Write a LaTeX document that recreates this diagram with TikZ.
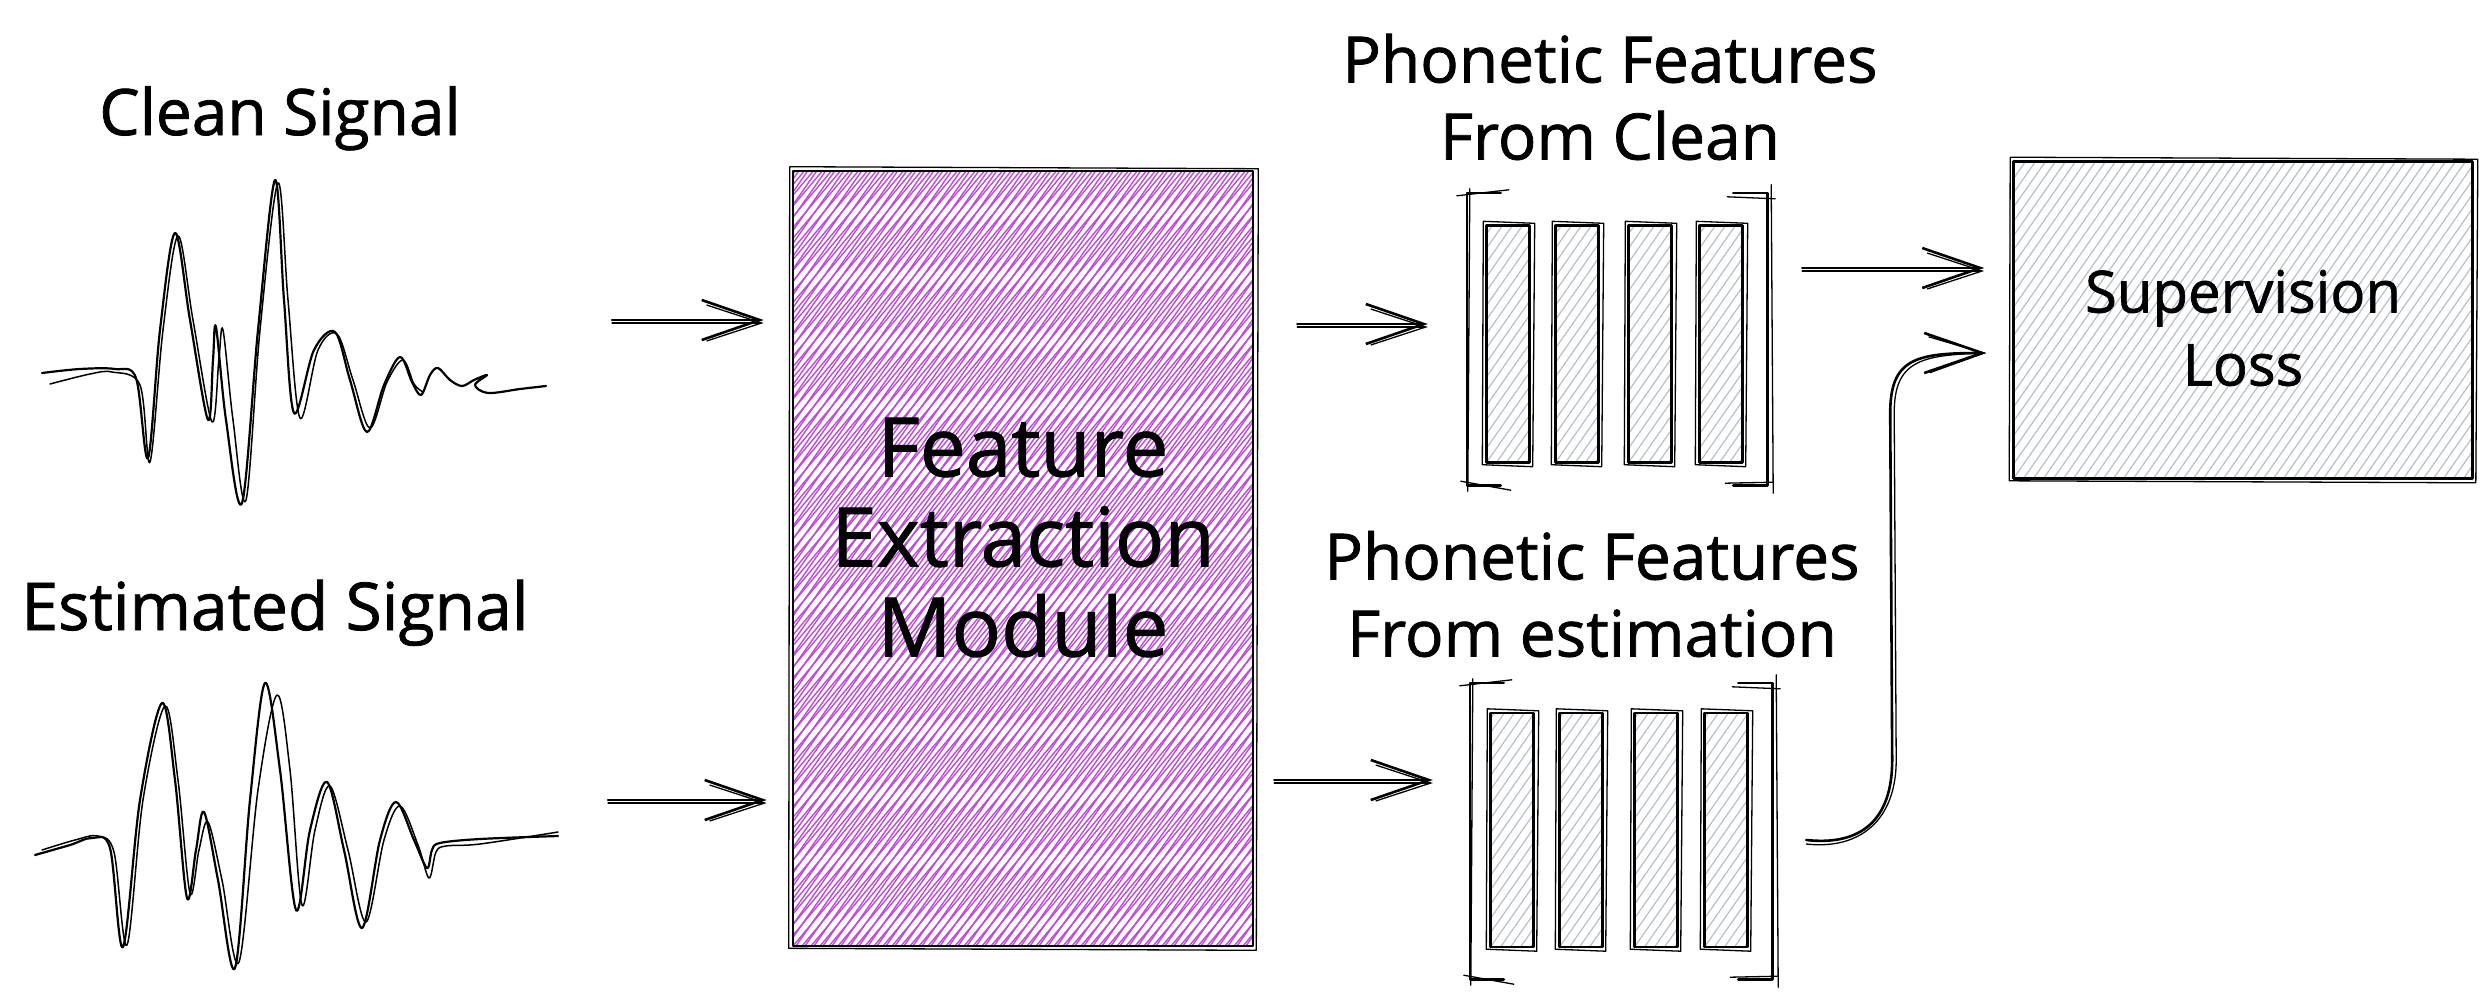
\documentclass[tikz,border=0pt]{standalone}
\usepackage{fontspec}
\setmainfont{Open Sans}[FakeBold=1.2]
\usetikzlibrary{arrows.meta,calc}
\definecolor{vio}{HTML}{BE4BDB}
\definecolor{hgray}{HTML}{B9C0C8}
\tikzset{
  ink/.style={draw=black, line width=2.6pt, line cap=round, line join=round},
  echo/.style={draw=black, line width=1.3pt, line cap=round, line join=round},
  wave/.style={draw=black, line width=2.2pt, line cap=round, line join=round},
  wave2/.style={draw=black, line width=1.5pt, line cap=round, line join=round},
  hatchv/.style={path picture={
    \foreach \k in {-80,...,55} {
      \draw[vio, line width=1.4pt] ($(path picture bounding box.south west)+(\k*9pt,0pt)$) -- ++(50:1100pt);
      \draw[vio, line width=1.4pt] ($(path picture bounding box.south west)+(\k*9pt+3pt,0pt)$) -- ++(55:1100pt);
    }}},
  hatchg/.style={path picture={
    \foreach \k in {-80,...,55} {
      \draw[hgray, line width=1.2pt] ($(path picture bounding box.south west)+(\k*10pt,0pt)$) -- ++(55:620pt);
    }}},
  lab/.style={font=\fontsize{64pt}{77pt}\selectfont, inner sep=0pt},
  midlab/.style={font=\fontsize{58pt}{73pt}\selectfont, inner sep=0pt},
  biglab/.style={font=\fontsize{82pt}{90pt}\selectfont, inner sep=0pt},
  barbox/.style={ink, line width=2.4pt, hatchg, minimum width=43pt, minimum height=237pt, inner sep=0pt},
  arr/.style={draw=black, line width=2.6pt, line cap=round, line join=round, -{Straight Barb[length=58pt,width=40pt]}},
  arrtwo/.style={draw=black, line width=1.3pt, line cap=round, line join=round, -{Straight Barb[length=55pt,width=36pt]}},
}
\newcommand\echobox[1]{\draw[echo] ([shift={(-2pt,3pt)}]#1.north west) -- ([shift={(4pt,1pt)}]#1.north east) -- ([shift={(2pt,-3pt)}]#1.south east) -- ([shift={(-3pt,-1pt)}]#1.south west) -- cycle;}
\newcommand\skbrackets[1]{%
  \draw[ink] ([xshift=34pt]#1.north west) -- (#1.north west) -- (#1.south west) -- ([xshift=34pt]#1.south west);
  \draw[ink] ([xshift=-34pt]#1.north east) -- (#1.north east) -- (#1.south east) -- ([xshift=-34pt]#1.south east);
  \draw[echo] ([shift={(-10pt,-3pt)}]#1.north west) -- ([shift={(42pt,3pt)}]#1.north west);
  \draw[echo] ([shift={(-6pt,4pt)}]#1.south west) -- ([shift={(44pt,-5pt)}]#1.south west);
  \draw[echo] ([shift={(-40pt,-4pt)}]#1.north east) -- ([shift={(8pt,-6pt)}]#1.north east);
  \draw[echo] ([shift={(-42pt,2pt)}]#1.south east) -- ([shift={(6pt,3pt)}]#1.south east);
  \draw[echo] ([shift={(3pt,4pt)}]#1.north west) -- ([shift={(1pt,-6pt)}]#1.south west);
  \draw[echo] ([shift={(4pt,8pt)}]#1.north east) -- ([shift={(6pt,-8pt)}]#1.south east);
}
\newcommand\skarrow[3][]{\draw[arr,#1] #2 -- #3; \draw[arrtwo,#1,transform canvas={yshift=-3pt}] #2 -- #3;}
\begin{document}
\begin{tikzpicture}[x=1pt,y=-1pt]
\useasboundingbox (0,0) rectangle (2488,1002);
\fill[white] (0,0) rectangle (2488,1002);

% ---------- signals ----------
\node[lab, anchor=base] (tclean) at (280,135) {Clean Signal};
\node[lab, anchor=base, font=\fontsize{66pt}{77pt}\selectfont] (test) at (275,630) {Estimated Signal};

\draw[wave] plot[smooth, tension=0.55] coordinates {(42,373) (80,369) (115,369) (136,378) (148,458) (160,330) (175,233) (190,320) (208,420) (213,360) (216,327) (226,420) (242,503) (258,330) (275,180) (284,300) (294,413) (314,350) (335,332) (350,380) (367,432) (384,385) (400,357) (412,382) (421,395) (430,375) (438,368) (450,380) (462,386) (474,380) (487,375) (475,385) (488,393) (520,389) (546,386)};
\draw[wave2] plot[smooth, tension=0.55] coordinates {(50,384) (90,374) (112,372) (140,385) (150,462) (163,330) (178,236) (193,320) (212,422) (219,358) (223,330) (233,420) (246,500) (260,330) (278,183) (288,300) (300,418) (318,350) (337,334) (353,380) (370,428) (387,382) (403,360) (414,384) (423,392)};

\draw[wave] plot[smooth, tension=0.55] coordinates {(35,855) (70,845) (92,838) (110,848) (123,947) (140,800) (162,703) (175,780) (187,898) (196,850) (204,812) (218,880) (235,968) (250,800) (265,683) (280,770) (296,910) (310,830) (327,782) (344,850) (362,928) (380,840) (396,802) (414,840) (427,868) (432,850) (440,843) (480,839) (558,836)};
\draw[wave2] plot[smooth, tension=0.55] coordinates {(42,850) (75,840) (98,836) (114,852) (127,945) (143,800) (165,706) (178,780) (190,893) (199,850) (208,822) (222,880) (239,962) (258,790) (277,695) (290,770) (302,905) (315,830) (330,786) (348,850) (366,922) (384,840) (400,806) (418,845) (429,878) (436,852) (446,846) (480,844) (558,832)};

% ---------- feature extraction ----------
\node[ink, hatchv, minimum width=460pt, minimum height=775pt, inner sep=0pt] (fe) at (1023,558.5) {};
\echobox{fe}
\node[biglab, align=center] (tfe) at ([yshift=21pt]fe.center) {Feature\\Extraction\\Module};

% ---------- phonetic features (clean) ----------
\node[lab, align=center] (tpfc) at (1610,97) {Phonetic Features\\From Clean};
\node[minimum width=300pt, minimum height=292pt, inner sep=0pt] (pfc) at (1617,339) {};
\skbrackets{pfc}
\node[barbox] (c1) at (1508,344) {};
\node[barbox] (c2) at (1577,344) {};
\node[barbox] (c3) at (1650,344) {};
\node[barbox] (c4) at (1721,344) {};
\echobox{c1}\echobox{c2}\echobox{c3}\echobox{c4}

% ---------- phonetic features (estimation) ----------
\node[lab, align=center] (tpfe) at (1592,594) {Phonetic Features\\From estimation};
\node[minimum width=302pt, minimum height=296pt, inner sep=0pt] (pfe) at (1621,831) {};
\skbrackets{pfe}
\node[barbox, minimum height=234pt] (e1) at (1512,830) {};
\node[barbox, minimum height=234pt] (e2) at (1581,830) {};
\node[barbox, minimum height=234pt] (e3) at (1656,830) {};
\node[barbox, minimum height=234pt] (e4) at (1726,830) {};
\echobox{e1}\echobox{e2}\echobox{e3}\echobox{e4}

% ---------- supervision loss ----------
\node[ink, hatchg, minimum width=459pt, minimum height=317pt, inner sep=0pt] (sl) at (2243,320) {};
\echobox{sl}
\node[midlab, align=center] (tsl) at ([yshift=-8pt]sl.center) {Supervision\\Loss};

% ---------- arrows ----------
\coordinate (a1s) at (612,320);
\coordinate (a2s) at (608,800);
\skarrow[shorten >=28pt]{(a1s)}{(a1s -| fe.west)}
\skarrow[shorten >=25pt]{(a2s)}{(a2s -| fe.west)}
\coordinate (a3) at ([yshift=15pt]pfc.west);
\skarrow[shorten <=43pt, shorten >=39pt]{(a3 -| fe.east)}{(a3)}
\coordinate (a4) at ([yshift=51pt]pfe.west);
\skarrow[shorten <=20pt, shorten >=37pt]{(a4 -| fe.east)}{(a4)}
\coordinate (a5) at ([yshift=71pt]pfc.east);
\skarrow[shorten <=35pt, shorten >=28pt]{(a5)}{(a5 -| sl.west)}

\coordinate (p6a) at ([xshift=34pt,yshift=-9pt]pfe.east);
\coordinate (p6b) at ([xshift=-26pt,yshift=-33pt]sl.west);
\draw[arr] (p6a) .. controls ($(p6a)+(55,6)$) and ($(p6a)+(86,-20)$) .. ($(p6a)+(86,-80)$) -- ($(p6b)+(-96,60)$) .. controls ($(p6b)+(-96,5)$) and ($(p6b)+(-70,0)$) .. (p6b);
\draw[arrtwo, transform canvas={xshift=4pt}] ($(p6a)+(-4,4)$) .. controls ($(p6a)+(50,10)$) and ($(p6a)+(86,-20)$) .. ($(p6a)+(86,-80)$) -- ($(p6b)+(-96,60)$) .. controls ($(p6b)+(-96,8)$) and ($(p6b)+(-70,2)$) .. ($(p6b)+(-4,0)$);
\end{tikzpicture}
\end{document}
